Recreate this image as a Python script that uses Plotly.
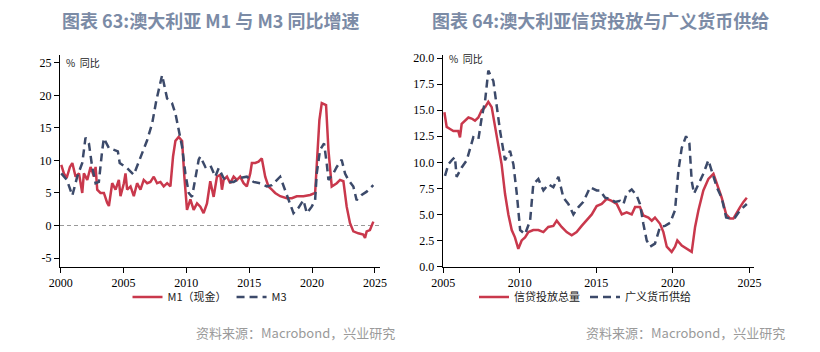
import plotly.graph_objects as go

# ---------------- Data ----------------
m1_years = [2000.05, 2000.26, 2000.48, 2000.74, 2000.93, 2001.19, 2001.46, 2001.72, 2001.85, 2002.12,
            2002.38, 2002.65, 2002.78, 2002.91, 2003.17, 2003.44, 2003.70, 2003.84, 2004.10, 2004.37,
            2004.63, 2004.76, 2005.03, 2005.16, 2005.29, 2005.56, 2005.82, 2006.08, 2006.35, 2006.61,
            2006.88, 2007.14, 2007.41, 2007.67, 2007.94, 2008.20, 2008.47, 2008.73, 2008.94, 2009.13,
            2009.39, 2009.66, 2009.84, 2010.05, 2010.32, 2010.58, 2010.85, 2011.11, 2011.37, 2011.64,
            2011.90, 2012.17, 2012.43, 2012.70, 2012.83, 2012.96, 2013.23, 2013.49, 2013.76, 2014.02,
            2014.28, 2014.55, 2014.81, 2015.08, 2015.21, 2015.48, 2015.74, 2016.00, 2016.27, 2016.53,
            2016.80, 2017.06, 2017.46, 2017.99, 2018.39, 2018.78, 2019.31, 2019.84, 2020.24, 2020.37,
            2020.58, 2020.77, 2021.11, 2021.30, 2021.56, 2021.96, 2022.22, 2022.49, 2022.75, 2023.01,
            2023.28, 2023.68, 2024.07, 2024.21, 2024.34, 2024.60, 2024.87]
m1_values = [9.3, 8.0, 7.3, 9.0, 9.6, 7.5, 8.0, 5.0, 8.0, 7.0,
             9.0, 7.5, 9.0, 5.5, 5.0, 5.0, 3.5, 3.0, 6.5, 5.5,
             7.0, 4.5, 6.5, 8.0, 5.5, 6.0, 4.5, 6.5, 5.5, 7.0,
             6.5, 6.7, 7.5, 6.5, 6.7, 6.0, 6.5, 6.0, 10.6, 13.0,
             13.6, 13.0, 7.5, 2.4, 4.0, 2.4, 3.4, 2.9, 1.9, 3.4,
             6.8, 4.4, 7.5, 7.8, 5.5, 7.0, 7.5, 6.5, 7.5, 7.0,
             7.5, 6.5, 6.0, 8.0, 9.6, 9.6, 9.8, 10.3, 7.5, 6.0,
             5.5, 5.0, 4.5, 4.2, 4.2, 4.5, 4.5, 4.7, 5.0, 9.0,
             16.2, 18.8, 18.5, 11.6, 6.0, 6.5, 7.0, 6.8, 2.9, 0.4,
             -0.9, -1.2, -1.4, -1.9, -0.9, -0.7, 0.6]

m3_years = [2000.05, 2000.50, 2000.93, 2001.32, 2001.72, 2001.98, 2002.25, 2002.51, 2002.78, 2003.04,
            2003.31, 2003.44, 2003.84, 2004.23, 2004.55, 2004.70, 2004.89, 2005.29, 2005.82, 2006.35,
            2006.88, 2007.28, 2007.62, 2008.07, 2008.47, 2008.86, 2009.13, 2009.39, 2009.66, 2009.92,
            2010.19, 2010.45, 2010.71, 2010.98, 2011.11, 2011.51, 2011.90, 2012.30, 2012.57, 2012.96,
            2013.36, 2013.76, 2014.28, 2014.81, 2015.34, 2015.87, 2016.40, 2016.80, 2017.46, 2017.86,
            2018.12, 2018.52, 2018.91, 2019.31, 2019.58, 2019.97, 2020.24, 2020.37, 2020.63, 2020.95,
            2021.16, 2021.30, 2021.69, 2021.96, 2022.35, 2022.62, 2022.88, 2023.28, 2023.54, 2023.94,
            2024.34, 2024.87]
m3_values = [8.0, 7.0, 4.6, 7.5, 9.6, 13.5, 12.6, 9.0, 6.5, 6.7,
             11.6, 13.4, 11.9, 11.6, 11.4, 9.6, 9.3, 8.8, 7.8, 10.6,
             13.1, 15.7, 19.3, 23.1, 19.5, 18.8, 17.2, 14.7, 12.1, 8.0,
             5.0, 4.4, 7.5, 10.1, 10.6, 9.0, 9.3, 7.5, 8.8, 7.3,
             6.7, 6.7, 7.3, 7.5, 6.7, 6.5, 6.0, 6.2, 7.5, 5.5,
             3.9, 1.9, 2.7, 3.9, 1.9, 2.9, 3.9, 8.0, 11.6, 12.6,
             9.6, 7.0, 8.0, 9.0, 10.1, 8.0, 7.0, 6.0, 3.9, 4.7,
             5.2, 6.2]

credit_years = [2005.07, 2005.22, 2005.44, 2005.66, 2005.98, 2006.09, 2006.20, 2006.42, 2006.64, 2006.85,
                2007.07, 2007.29, 2007.51, 2007.73, 2007.94, 2008.16, 2008.38, 2008.60, 2008.81, 2009.03,
                2009.25, 2009.47, 2009.68, 2009.90, 2010.12, 2010.34, 2010.56, 2010.88, 2011.21, 2011.54,
                2011.86, 2012.19, 2012.41, 2012.73, 2013.06, 2013.39, 2013.71, 2014.04, 2014.37, 2014.70,
                2015.02, 2015.35, 2015.68, 2016.00, 2016.33, 2016.66, 2016.98, 2017.31, 2017.53, 2017.85,
                2018.07, 2018.40, 2018.62, 2018.83, 2019.16, 2019.38, 2019.60, 2019.92, 2020.14, 2020.29,
                2020.58, 2020.90, 2021.23, 2021.45, 2021.67, 2021.99, 2022.32, 2022.65, 2022.87, 2023.19,
                2023.48, 2023.74, 2023.95, 2024.17, 2024.39, 2024.61, 2024.83]
credit_values = [14.8, 13.4, 13.2, 13.0, 13.0, 12.4, 13.7, 14.0, 14.3, 14.2,
                 14.0, 14.3, 15.0, 15.3, 15.8, 15.3, 13.4, 11.4, 9.8, 7.0,
                 5.0, 3.5, 2.8, 1.7, 2.5, 2.8, 3.3, 3.5, 3.5, 3.3,
                 3.8, 3.9, 4.4, 3.8, 3.3, 3.0, 3.3, 3.9, 4.4, 5.0,
                 5.8, 6.0, 6.5, 6.3, 6.0, 5.0, 5.2, 5.0, 5.7, 5.7,
                 4.9, 4.7, 4.4, 4.7, 4.1, 3.3, 1.9, 1.4, 1.9, 2.5,
                 2.0, 1.7, 1.4, 3.8, 5.4, 7.3, 8.4, 8.9, 7.9, 6.6,
                 5.0, 4.6, 4.6, 5.2, 5.7, 6.2, 6.6]

broad_years = [2005.11, 2005.33, 2005.55, 2005.76, 2005.87, 2006.20, 2006.53, 2006.75, 2006.96, 2007.29,
               2007.51, 2007.73, 2007.94, 2008.27, 2008.49, 2008.71, 2009.03, 2009.36, 2009.58, 2009.80,
               2010.02, 2010.34, 2010.67, 2010.88, 2011.21, 2011.54, 2011.86, 2012.19, 2012.52, 2012.85,
               2013.17, 2013.50, 2013.83, 2014.15, 2014.59, 2015.02, 2015.24, 2015.57, 2015.89, 2016.22,
               2016.55, 2016.77, 2016.98, 2017.31, 2017.64, 2017.85, 2018.07, 2018.29, 2018.51, 2018.83,
               2019.16, 2019.49, 2019.82, 2020.14, 2020.36, 2020.58, 2020.86, 2021.08, 2021.23, 2021.38,
               2021.67, 2021.99, 2022.32, 2022.54, 2022.87, 2023.19, 2023.48, 2023.74, 2024.06, 2024.39,
               2024.83]
broad_values = [8.7, 9.8, 10.2, 10.5, 8.6, 9.5, 10.2, 11.4, 12.4, 12.2,
                14.3, 15.9, 18.8, 17.8, 15.3, 13.0, 10.2, 11.1, 9.8, 7.0,
                3.5, 3.1, 4.4, 7.9, 8.4, 7.3, 7.9, 7.6, 8.6, 6.6,
                6.0, 5.0, 5.7, 6.2, 7.6, 7.3, 7.3, 6.6, 6.5, 6.2,
                6.3, 6.0, 7.0, 7.4, 6.8, 6.0, 4.1, 2.5, 1.9, 2.2,
                3.8, 3.9, 4.2, 5.4, 9.2, 11.4, 12.5, 11.8, 8.2, 7.0,
                7.9, 8.9, 10.2, 9.2, 7.6, 6.6, 4.7, 4.6, 4.7, 5.4,
                6.0]

left_xticks = [2000, 2005, 2010, 2015, 2020, 2025]
left_yticks = [-5, 0, 5, 10, 15, 20, 25]
right_xticks = [2005, 2010, 2015, 2020, 2025]
right_yticks = [0.0, 2.5, 5.0, 7.5, 10.0, 12.5, 15.0, 17.5, 20.0]

title_left = "图表 63:澳大利亚 M1 与 M3 同比增速"
title_right = "图表 64:澳大利亚信贷投放与广义货币供给"
source_text = "资料来源：Macrobond，兴业研究"
unit_text = "%  同比"

# ---------------- Styling ----------------
RED = "#c9384c"
NAVY = "#3c4a6a"
W, H = 820, 352
CJK = "Noto Sans CJK SC"
SERIF = "Liberation Serif"

fig = go.Figure()

fig.add_trace(go.Scatter(x=m1_years, y=m1_values, mode="lines", name="M1（现金）",
                         line=dict(color=RED, width=2.5), xaxis="x", yaxis="y", legend="legend"))
fig.add_trace(go.Scatter(x=m3_years, y=m3_values, mode="lines", name="M3",
                         line=dict(color=NAVY, width=2.5, dash="8px,5px"), xaxis="x", yaxis="y", legend="legend"))
fig.add_trace(go.Scatter(x=credit_years, y=credit_values, mode="lines", name="信贷投放总量",
                         line=dict(color=RED, width=2.5), xaxis="x2", yaxis="y2", legend="legend2"))
fig.add_trace(go.Scatter(x=broad_years, y=broad_values, mode="lines", name="广义货币供给",
                         line=dict(color=NAVY, width=2.5, dash="8px,5px"), xaxis="x2", yaxis="y2", legend="legend2"))

def px_x(p):
    return p / W

def px_y(p):
    return 1 - p / H

axis_common = dict(showgrid=False, zeroline=False, showline=True, linecolor="#000", linewidth=1,
                   ticks="outside", ticklen=5, tickcolor="#000", automargin=False,
                   tickfont=dict(family=SERIF, size=12, color="#000"))

fig.update_layout(
    template="none",
    width=W, height=H, margin=dict(l=0, r=0, t=0, b=0, pad=0, autoexpand=False),
    paper_bgcolor="white", plot_bgcolor="white",
    xaxis=dict(domain=[px_x(60), px_x(380)], range=[1999.95, 2025.4], tickvals=left_xticks,
               ticktext=[str(v) for v in left_xticks], anchor="y", **axis_common),
    yaxis=dict(domain=[px_y(266.5), px_y(55)], range=[-6.3, 26.2], tickvals=left_yticks,
               ticktext=[str(v) for v in left_yticks], anchor="x", **axis_common),
    xaxis2=dict(domain=[px_x(442.7), px_x(754)], range=[2004.96, 2025.3], tickvals=right_xticks,
                ticktext=[str(v) for v in right_xticks], anchor="y2", **axis_common),
    yaxis2=dict(domain=[px_y(266.5), px_y(55)], range=[0, 20.3], tickvals=right_yticks,
                ticktext=[f"{v:.1f}" for v in right_yticks], anchor="x2", **axis_common),
    legend=dict(orientation="h", x=px_x(210), xanchor="center", y=px_y(297), yanchor="middle",
                font=dict(family=CJK, size=11, color="#222"), itemwidth=30, bgcolor="rgba(0,0,0,0)",
                tracegroupgap=0),
    legend2=dict(orientation="h", x=px_x(585), xanchor="center", y=px_y(297), yanchor="middle",
                 font=dict(family=CJK, size=11, color="#222"), itemwidth=30, bgcolor="rgba(0,0,0,0)",
                 tracegroupgap=0),
    showlegend=True,
)

# zero reference line on the left chart
fig.add_shape(type="line", xref="x domain", yref="y", x0=0, x1=1, y0=0, y1=0,
              line=dict(color="#999", width=1, dash="4px,3px"), layer="below")

title_font = dict(family=CJK, size=18, color="#7b8ba6")
fig.add_annotation(text=f"<b>{title_left}</b>", xref="paper", yref="paper", x=px_x(210), y=px_y(20),
                   xanchor="center", yanchor="middle", showarrow=False, font=title_font)
fig.add_annotation(text=f"<b>{title_right}</b>", xref="paper", yref="paper", x=px_x(600), y=px_y(20),
                   xanchor="center", yanchor="middle", showarrow=False, font=title_font)

unit_font = dict(family=CJK, size=10, color="#222")
fig.add_annotation(text=unit_text, xref="paper", yref="paper", x=px_x(64), y=px_y(62),
                   xanchor="left", yanchor="middle", showarrow=False, font=unit_font)
fig.add_annotation(text=unit_text, xref="paper", yref="paper", x=px_x(447), y=px_y(58),
                   xanchor="left", yanchor="middle", showarrow=False, font=unit_font)

src_font = dict(family=CJK, size=13, color="#9a9a9a")
fig.add_annotation(text=source_text, xref="paper", yref="paper", x=px_x(397), y=px_y(332),
                   xanchor="right", yanchor="middle", showarrow=False, font=src_font)
fig.add_annotation(text=source_text, xref="paper", yref="paper", x=px_x(787), y=px_y(332),
                   xanchor="right", yanchor="middle", showarrow=False, font=src_font)

fig.write_html("out.html")
